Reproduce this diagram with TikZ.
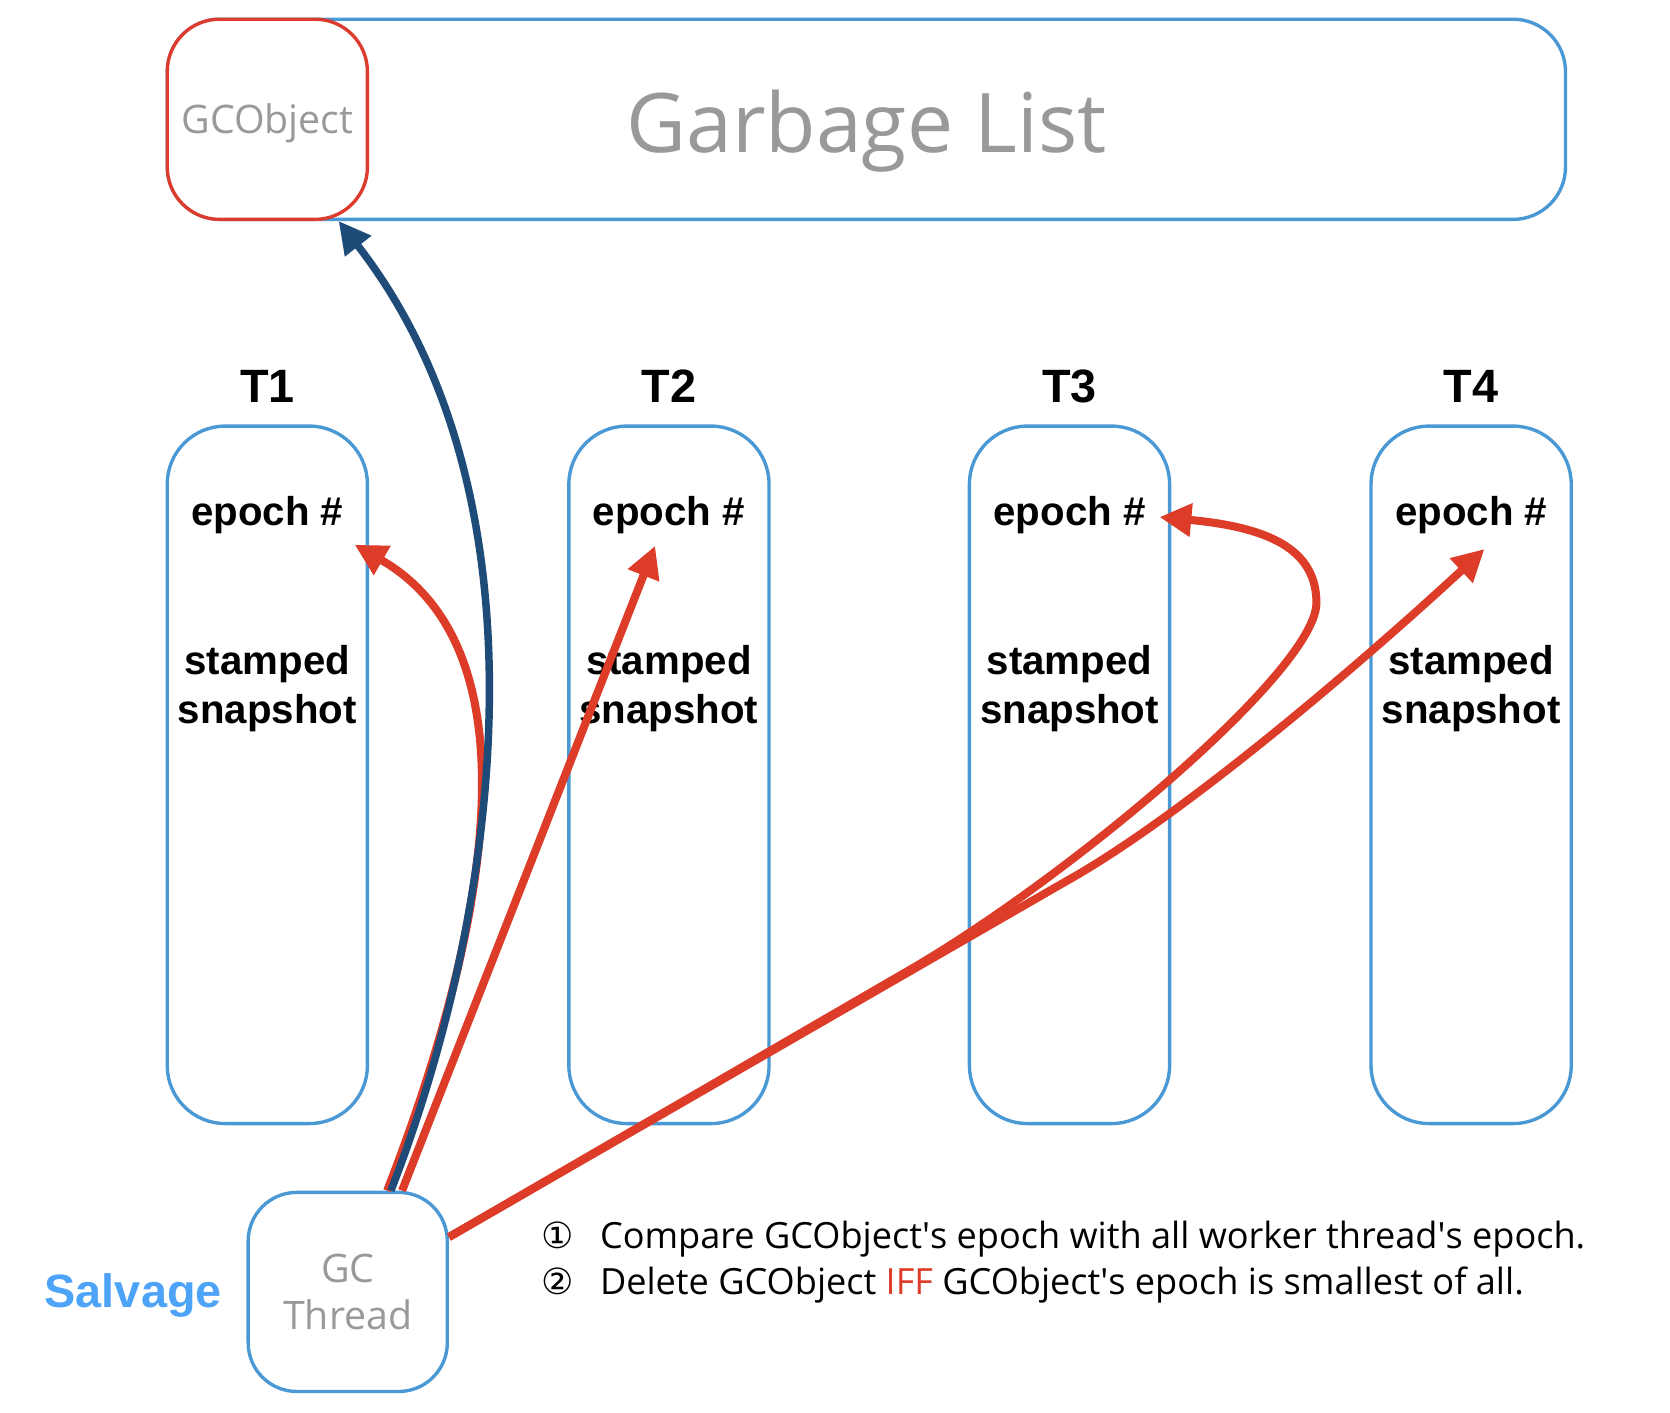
\documentclass[tikz,border=0pt]{standalone}
\usepackage{fontspec}
\setmainfont{Open Sans}
\newfontfamily\helv{Liberation Sans}
\newfontfamily\symfont{DejaVu Sans}
\usetikzlibrary{positioning}
\usetikzlibrary{calc}
\usetikzlibrary{arrows.meta}
\definecolor{boxblue}{HTML}{4A98D4}
\definecolor{objred}{HTML}{DC3C2D}
\definecolor{arrred}{HTML}{DC3C28}
\definecolor{navy}{HTML}{1E4B78}
\definecolor{txtgray}{HTML}{999999}
\definecolor{salvblue}{HTML}{4DA3F7}
\tikzset{
  thread/.style={rectangle,draw=boxblue,line width=1.8pt,rounded corners=31pt,
    minimum width=3.76cm,minimum height=13.1cm},
  tlabel/.style={inner sep=0pt,font=\helv\bfseries\fontsize{25}{30}\selectfont},
  field/.style={align=center,font=\helv\bfseries\fontsize{21.5}{26}\selectfont},
  redarrow/.style={draw=arrred,line width=4.3pt,-{Triangle[length=17pt,width=17pt]}},
  bluearrow/.style={draw=navy,line width=4pt,-{Triangle[length=17pt,width=17pt]}}
}
\begin{document}
\begin{tikzpicture}[x=0.02cm,y=-0.02cm]
  \useasboundingbox (0,0) rectangle (1568,1326);
  % garbage list with its first object
  \node(glist)[rectangle,draw=boxblue,line width=1.8pt,rounded corners=28pt,
    minimum width=26.26cm,minimum height=3.76cm,text=txtgray,text height=46pt,
    font=\fontsize{44}{52}\selectfont] at (813.5,112){Garbage List};
  \node(gobj)[rectangle,draw=objred,fill=white,line width=1.8pt,rounded corners=28pt,
    minimum width=3.76cm,minimum height=3.76cm,text=txtgray,text height=20.5pt,
    font=\fontsize{21}{25}\selectfont] at (251,112){GCObject};
  % worker threads
  \node(t1)[thread] at (251,727.5){};
  \node(t2)[thread,right=3.72cm of t1]{};
  \node(t3)[thread,right=3.70cm of t2]{};
  \node(t4)[thread,right=3.72cm of t3]{};
  \node(lab1)[tlabel,above=0.4cm of t1]{T1};
  \node(lab2)[tlabel,above=0.4cm of t2]{T2};
  \node(lab3)[tlabel,above=0.4cm of t3]{T3};
  \node(lab4)[tlabel,above=0.4cm of t4]{T4};
  \node(e1)[field] at ([yshift=-1.70cm]t1.north){epoch \#};
  \node(e2)[field] at ([yshift=-1.70cm]t2.north){epoch \#};
  \node(e3)[field] at ([yshift=-1.70cm]t3.north){epoch \#};
  \node(e4)[field] at ([yshift=-1.70cm]t4.north){epoch \#};
  \node(s1)[field] at ([yshift=-4.96cm]t1.north){stamped\\snapshot};
  \node(s2)[field] at ([yshift=-4.96cm]t2.north){stamped\\snapshot};
  \node(s3)[field] at ([yshift=-4.96cm]t3.north){stamped\\snapshot};
  \node(s4)[field] at ([yshift=-4.96cm]t4.north){stamped\\snapshot};
  % gc thread
  \node(gc)[rectangle,draw=boxblue,line width=1.8pt,rounded corners=26pt,
    minimum width=3.74cm,minimum height=3.74cm,align=center,text=txtgray,
    font=\fontsize{21}{25}\selectfont] at (326.5,1213){GC\\Thread};
  \node(salv)[inner sep=0pt,left=0.46cm of gc,yshift=-0.06cm,text=salvblue,
    font=\helv\bfseries\fontsize{25}{30}\selectfont]{Salvage};
  \node(notes)[inner sep=0pt,anchor=west,align=left,
    font=\fontsize{19.3}{25}\selectfont] at (508,1185)
    {{\symfont ①}\hspace{14pt}Compare GCObject\textquotesingle s epoch with all worker thread\textquotesingle s epoch.\\
     {\symfont ②}\hspace{14pt}Delete GCObject \textcolor{arrred}{IFF} GCObject\textquotesingle s epoch is smallest of all.};
  % arrow ends
  \coordinate(gcb) at ($(gc.north)+(40.5,0)$);
  \coordinate(gc1) at ($(gc.north)+(37,0)$);
  \coordinate(gc2) at ($(gc.north)+(51,0)$);
  \coordinate(gc34) at ($(gc.east)+(0,-51.5)$);
  \coordinate(tipo) at ($(gobj.south)+(67,0)$);
  \coordinate(tip1) at ($(e1)+(82,28)$);
  \coordinate(tip2) at ($(e2)+(-13,29)$);
  \coordinate(tip3) at ($(e3)+(84.5,2)$);
  \coordinate(tip4) at ($(e4)+(12.5,32)$);
\draw[redarrow](gc1) .. controls (460,870) and (505,610) .. (tip1);
\draw[redarrow](gc2) -- (tip2);
\draw[redarrow](gc34) -- (850,913) .. controls (1000,827) and (1236,630) .. (1236,566)
  .. controls (1236,515) and (1190,495) .. (tip3);
\draw[redarrow](gc34) -- (1000,828) .. controls (1130,755.5) and (1330,575) .. (tip4);
\draw[bluearrow](gcb) .. controls (460,880) and (530,480) .. (tipo);
\end{tikzpicture}
\end{document}
